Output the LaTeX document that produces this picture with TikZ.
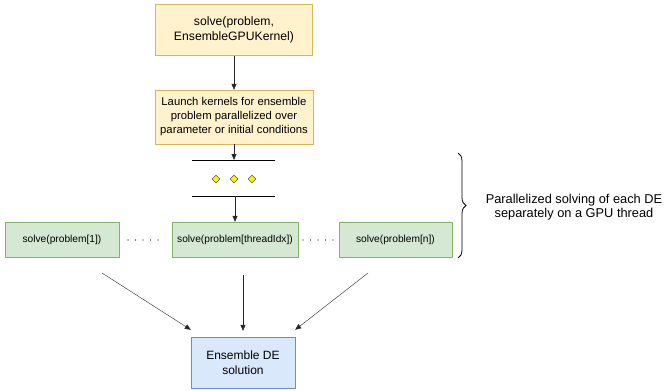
\documentclass[tikz,border=0pt]{standalone}
\usepackage{fontspec}
\setmainfont{Liberation Sans}
\usetikzlibrary{arrows.meta,shapes.geometric,decorations.pathreplacing}
\definecolor{yfill}{HTML}{FFF2CC}
\definecolor{yline}{HTML}{D6B656}
\definecolor{gfill}{HTML}{D5E8D4}
\definecolor{gline}{HTML}{82B366}
\definecolor{bfill}{HTML}{DAE8FC}
\definecolor{bline}{HTML}{6C8EBF}
\begin{document}
\begin{tikzpicture}[x=1pt,y=-1pt,
  launchbox/.style={draw=yline,fill=yfill,align=center,inner sep=1pt},
  solvebox/.style={draw=gline,fill=gfill,align=center,inner sep=1pt,minimum height=35pt,font=\fontsize{10.2}{12}\selectfont},
  resultbox/.style={draw=bline,fill=bfill,align=center,minimum width=104pt,minimum height=51pt,font=\fontsize{12}{15}\selectfont},
  gem/.style={diamond,draw=black!80,fill=yellow,inner sep=0pt,minimum size=8pt},
  arr/.style={-{Triangle[length=6pt,width=5pt]},black!85}]
  \useasboundingbox (0,0) rectangle (665,391);
  \node[launchbox,minimum width=157pt,minimum height=51pt,font=\fontsize{12.2}{15}\selectfont]
    (call) at (234,30) {solve(problem,\\EnsembleGPUKernel)};
  \node[launchbox,minimum width=158pt,minimum height=54pt,font=\fontsize{11.3}{14}\selectfont]
    (launch) at (234,117) {Launch kernels for ensemble\\problem parallelized over\\parameter or initial conditions};
  \draw[arr] (call) -- (launch);
  % fork bars
  \coordinate (barAl) at (192,160);
  \coordinate (barAr) at (275,160);
  \coordinate (barBl) at (192,196);
  \coordinate (barBr) at (275,196);
  \draw (barAl) -- (barAr);
  \draw (barBl) -- (barBr);
  \draw[arr] (launch) -- (234,160);
  \node[gem] (g1) at (216,179) {};
  \node[gem] (g2) at (234,179) {};
  \node[gem] (g3) at (252,179) {};
  % one solve per thread
  \node[solvebox,minimum width=114pt] (first) at (62,239.5) {solve(problem[1])};
  \node[solvebox,minimum width=126pt] (thread) at (235,239.5) {solve(problem[threadIdx])};
  \node[solvebox,minimum width=113pt] (last) at (395.5,239.5) {solve(problem[n])};
  \coordinate (tap) at (235,196);
  \draw[arr] (tap) -- (thread);
  \coordinate (dotAl) at (128,240);
  \coordinate (dotAr) at (159,240);
  \coordinate (dotBl) at (303,240);
  \coordinate (dotBr) at (334,240);
  \draw[line width=1.3pt,line cap=round,dash pattern=on 0pt off 7.5pt] (dotAl) -- (dotAr);
  \draw[line width=1.3pt,line cap=round,dash pattern=on 0pt off 7.5pt] (dotBl) -- (dotBr);
  \draw[decorate,decoration={brace,amplitude=8pt},line width=0.8pt] (458,153) -- (458,258);
  \node[align=center,font=\fontsize{12.8}{13.6}\selectfont] (note) at (574,207)
    {Parallelized solving of each DE\\separately on a GPU thread};
  % gather
  \node[resultbox] (res) at (243,362.5) {Ensemble DE\\solution};
  \coordinate (fromFirst) at (102,273);
  \coordinate (fromThread) at (243,275);
  \coordinate (fromLast) at (368,273);
  \draw[arr] (fromFirst) -- ([yshift=7pt]res.north west);
  \draw[arr] (fromThread) -- ([yshift=6pt]res.north);
  \draw[arr] (fromLast) -- ([yshift=7pt]res.north east);
\end{tikzpicture}
\end{document}
